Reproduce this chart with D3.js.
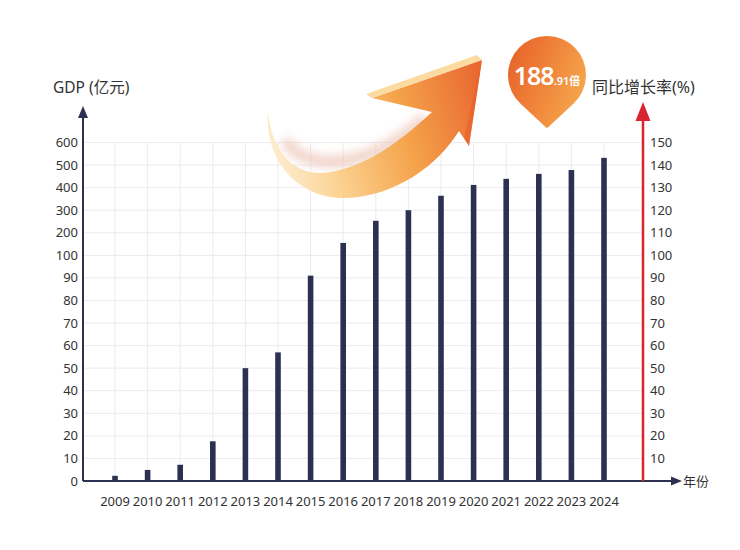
<!DOCTYPE html>
<html><head><meta charset="utf-8">
<script src="https://cdn.jsdelivr.net/npm/d3@7"></script>
<style>
html,body{margin:0;padding:0;background:#fff;}
svg{display:block;font-family:"Noto Sans","Noto Sans CJK SC",sans-serif;}
</style></head>
<body>
<svg id="c" width="740" height="550"></svg>
<script>
// ---- data ----
const years = ["2009","2010","2011","2012","2013","2014","2015","2016","2017","2018","2019","2020","2021","2022","2023","2024"];
const gdp = [2.3, 4.9, 7.2, 17.6, 50, 57, 91, 155, 253, 300, 364, 412, 439, 461, 478, 532];
const leftTicks = [0,10,20,30,40,50,60,70,80,90,100,200,300,400,500,600];
const rightTicks = [10,20,30,40,50,60,70,80,90,100,110,120,130,140,150];
const leftTitle = "GDP (亿元)";
const rightTitle = "同比增长率(%)";
const xTitle = "年份";
const badgeMain = "188";
const badgeSub = ".91倍";

const svg = d3.select("#c");
const baseY = 481, topY = 142.5, step = (baseY - topY) / 15;
const yL = d3.scaleLinear().domain([0,100,600]).range([baseY, baseY - 10*step, topY]);
const yR = d3.scaleLinear().domain([0,150]).range([baseY, topY]);
const x = d3.scalePoint().domain(years).range([115, 604]);
const axisX = 83, rightX = 643;
const navy = "#2c3152", red = "#d9252f", txt = "#333";

const defs = svg.append("defs");
const g1 = defs.append("linearGradient").attr("id","arrowG").attr("gradientUnits","userSpaceOnUse")
  .attr("x1",265).attr("y1",150).attr("x2",485).attr("y2",90);
[["0%","#fdf0d6"],["28%","#fbd08c"],["62%","#f4a045"],["100%","#e8622a"]].forEach(d=>g1.append("stop").attr("offset",d[0]).attr("stop-color",d[1]));
const g2 = defs.append("linearGradient").attr("id","pinG").attr("gradientUnits","userSpaceOnUse")
  .attr("x1",508).attr("y1",60).attr("x2",586).attr("y2",90);
[["0%","#e8642a"],["100%","#f6a64c"]].forEach(d=>g2.append("stop").attr("offset",d[0]).attr("stop-color",d[1]));
defs.append("filter").attr("id","blur").attr("x","-50%").attr("y","-50%").attr("width","200%").attr("height","200%")
  .append("feGaussianBlur").attr("stdDeviation",5);

// grid
const grid = svg.append("g").attr("stroke","#ebebf0").attr("stroke-width",1);
grid.selectAll("line.h").data(leftTicks.slice(1)).join("line")
  .attr("x1",axisX).attr("x2",rightX).attr("y1",d=>yL(d)).attr("y2",d=>yL(d));
grid.selectAll("line.v").data(years).join("line")
  .attr("x1",d=>x(d)).attr("x2",d=>x(d)).attr("y1",topY).attr("y2",baseY);

// swoosh arrow decoration
svg.append("path").attr("fill","none").attr("stroke","#ecc2b4").attr("stroke-width",12).attr("opacity",0.7)
  .attr("filter","url(#blur)")
  .attr("d","M285,140 C300,165 340,168 380,150 C400,140 415,128 425,118");
svg.append("path").attr("fill","url(#arrowG)").attr("opacity",0.97)
  .attr("d","M268,112 C264,160 298,199 345,198 C395,197 438,165 459,131 L469,146 L482,60 L372,98 L432,112 C400,142 362,170 322,173 C292,174 272,150 268,112 Z");
svg.append("path").attr("fill","#fcd99c").attr("opacity",0.95)
  .attr("d","M372,98 L482,60 L477,55 L366,94 Z");
svg.append("path").attr("fill","#e45a26").attr("opacity",0.5)
  .attr("d","M482,60 L469,146 L464,138 Z");

// bars
svg.append("g").selectAll("rect").data(years).join("rect")
  .attr("x",d=>x(d)-2.8).attr("width",5.6)
  .attr("y",(d,i)=>yL(gdp[i])).attr("height",(d,i)=>baseY-yL(gdp[i]))
  .attr("fill",navy);

// left axis
svg.append("line").attr("x1",axisX).attr("x2",axisX).attr("y1",baseY).attr("y2",116).attr("stroke",navy).attr("stroke-width",2);
svg.append("path").attr("d",`M${axisX},106 L${axisX-5},118 L${axisX+5},118 Z`).attr("fill",navy);
svg.append("g").selectAll("text").data(leftTicks).join("text")
  .attr("x",78).attr("y",d=>yL(d)).attr("dy","0.35em").attr("text-anchor","end")
  .attr("font-size",13).attr("fill",txt).text(d=>d);
svg.append("text").attr("x",53).attr("y",93).attr("font-size",15.5).attr("fill",txt).text(leftTitle);

// bottom axis
svg.append("line").attr("x1",axisX).attr("x2",674).attr("y1",baseY).attr("y2",baseY).attr("stroke",navy).attr("stroke-width",2);
svg.append("path").attr("d",`M682,${baseY} L671,${baseY-4.5} L671,${baseY+4.5} Z`).attr("fill",navy);
svg.append("g").selectAll("text").data(years).join("text")
  .attr("x",d=>x(d)).attr("y",501).attr("dy","0.35em").attr("text-anchor","middle")
  .attr("font-size",13).attr("fill",txt).text(d=>d);
svg.append("text").attr("x",683).attr("y",baseY).attr("dy","0.35em").attr("font-size",13).attr("fill",txt).text(xTitle);

// right axis
svg.append("line").attr("x1",rightX).attr("x2",rightX).attr("y1",baseY).attr("y2",118).attr("stroke",red).attr("stroke-width",2.5);
svg.append("path").attr("d",`M${rightX},102 L${rightX-7.5},121 L${rightX+7.5},121 Z`).attr("fill",red);
svg.append("g").selectAll("text").data(rightTicks).join("text")
  .attr("x",650).attr("y",d=>yR(d)).attr("dy","0.35em")
  .attr("font-size",13).attr("fill",txt).text(d=>d);
svg.append("text").attr("x",592).attr("y",93).attr("font-size",16).attr("fill",txt).text(rightTitle);

// badge pin
const pin = svg.append("g");
pin.append("path").attr("fill","url(#pinG)")
  .attr("d","M549,126.5 Q547,129 545,126.5 L520.6,103.7 A39,39 0 1 1 573.4,103.7 Z");
const bt = pin.append("text").attr("x",547).attr("y",85).attr("text-anchor","middle").attr("fill","#fff");
bt.append("tspan").attr("font-size",25).attr("font-weight",600).attr("letter-spacing",-1).text(badgeMain);
bt.append("tspan").attr("font-size",11).attr("font-weight",600).text(badgeSub);
</script>
</body></html>
